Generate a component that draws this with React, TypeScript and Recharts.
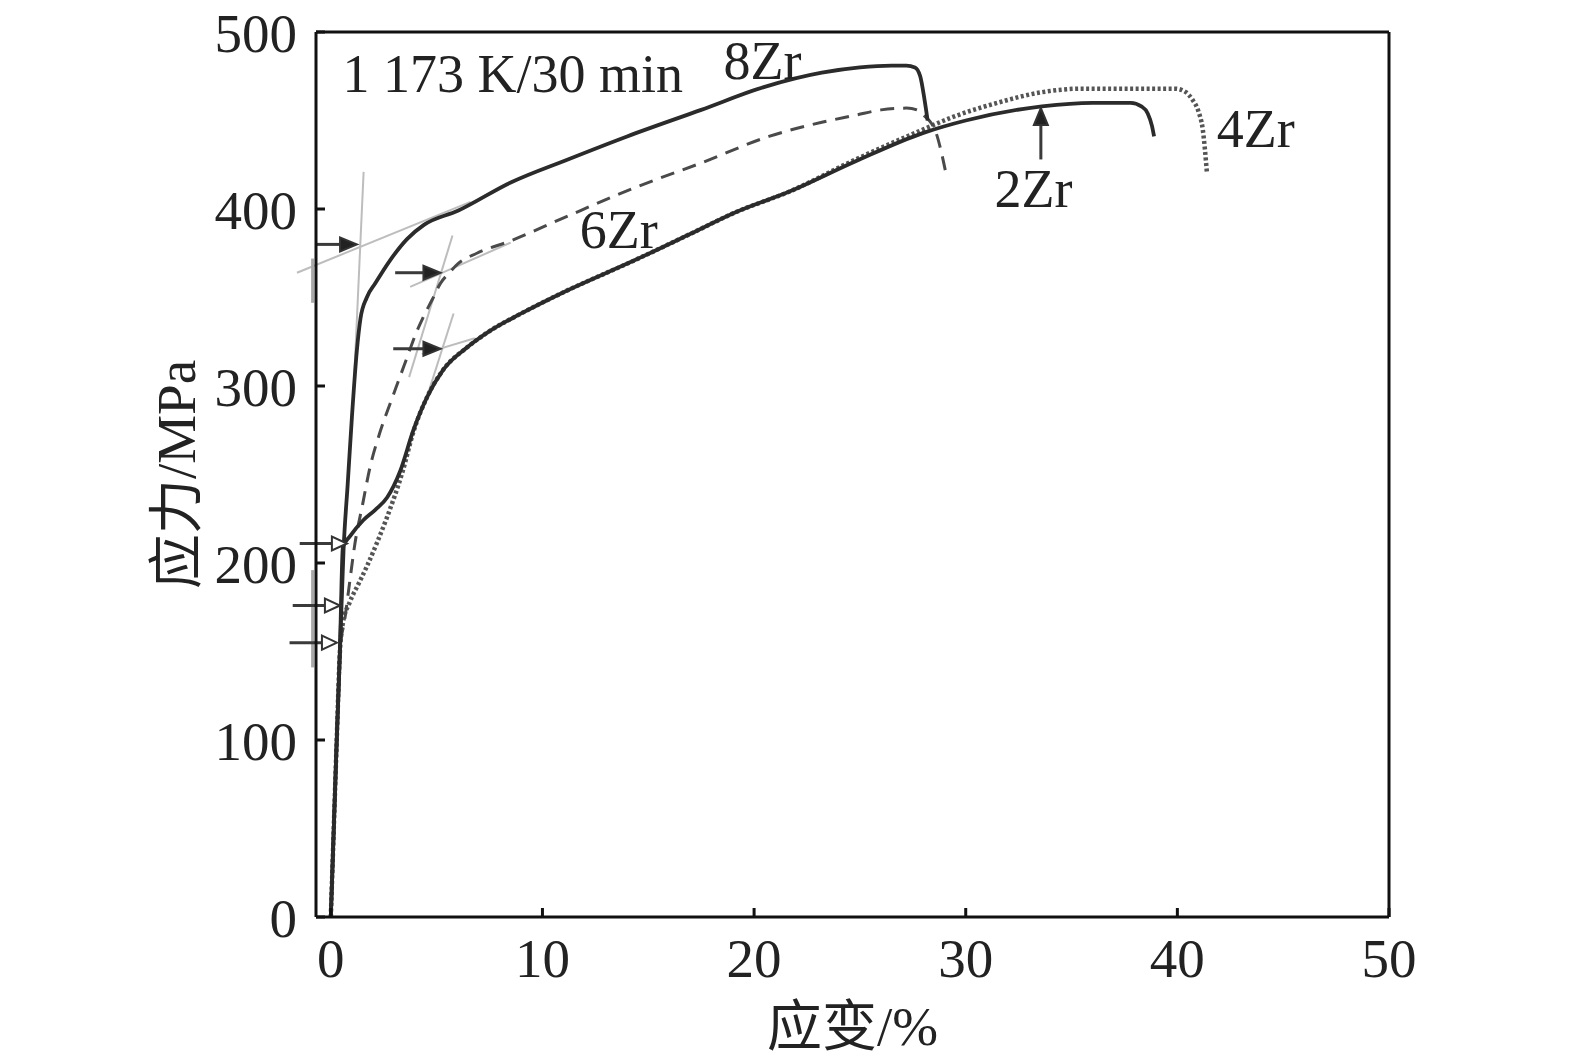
import React from 'react';
import { Line, LineChart, ReferenceDot, ReferenceLine, XAxis, YAxis } from 'recharts';

const FONT = "'Liberation Serif', 'Times New Roman', 'Noto Sans CJK SC', serif";

const xTicks = [0, 10, 20, 30, 40, 50];
const yTicks = [0, 100, 200, 300, 400, 500];

// 8Zr, solid (upper)
const strain8Zr = [0, 0.14, 0.28, 0.43, 0.6, 0.8, 1.0, 1.23, 1.4, 1.7, 2.1, 2.8, 3.6, 4.4, 6, 8.5, 11.2, 14, 17.5, 20.5, 23.2, 25, 26.5, 27.2, 27.6, 27.85, 28.05, 28.2];
const stress8Zr = [0, 50, 100, 150, 207, 245, 283, 320, 338, 350, 358, 371, 383, 391, 399, 415, 428, 441, 456, 469, 477, 480, 481, 481, 480, 475, 462, 450];

// 6Zr, dashed
const strain6Zr = [0, 0.14, 0.28, 0.43, 0.67, 0.9, 1.14, 1.5, 1.85, 2.3, 2.8, 3.2, 3.6, 4.0, 4.37, 4.8, 5.18, 5.6, 6.0, 6.9, 8.5, 11, 14.35, 17.5, 20.7, 23.2, 24.8, 26, 27.2, 27.7, 28.1, 28.4, 28.6, 28.85, 29.1];
const stress6Zr = [0, 50, 100, 150, 169, 190, 211, 233, 254, 273, 290, 303, 316, 329, 339, 349, 358, 364, 369, 375, 382, 395, 412, 426, 441, 449, 453, 456, 457, 456, 452, 448, 443, 432, 418];

// 2Zr, solid (lower)
const strain2Zr = [0, 0.14, 0.28, 0.43, 0.57, 0.9, 1.52, 2.1, 2.66, 3.28, 3.9, 4.56, 5.3, 6.46, 7.5, 9, 11, 14.35, 17, 19.1, 21.7, 24.8, 28, 30, 33.6, 36, 37.8, 38.3, 38.6, 38.8, 38.9];
const stress2Zr = [0, 50, 100, 150, 209, 215, 224, 230, 237, 252, 275, 294, 309, 322, 331, 341, 353, 371, 386, 398, 410, 427, 443, 450, 458, 460, 460, 458, 454, 447, 441];

// 4Zr, dotted
const strain4Zr = [0, 0.14, 0.28, 0.43, 0.57, 0.9, 1.3, 1.7, 2.2, 2.66, 3.4, 3.9, 4.56, 5.3, 6.46, 7.5, 9, 11, 14.35, 17, 19.1, 21.7, 24.8, 28, 29.4, 31.5, 33.6, 35.5, 37.4, 39.0, 39.9, 40.4, 40.7, 41.0, 41.2, 41.4];
const stress4Zr = [0, 50, 100, 150, 166, 178, 188, 198, 212, 226, 252, 274, 294, 309, 322, 331, 341, 353, 371, 386, 398, 410, 428, 445, 452, 460, 466, 468, 468, 468, 468, 466, 462, 455, 445, 420];

// grey tangent constructions [x1, y1, x2, y2]
const tangentLines = [
  [1.55, 421, 1.05, 290],
  [-1.6, 364, 6.6, 404],
  [5.75, 385, 3.7, 305],
  [3.75, 356, 8.5, 381],
  [5.8, 341, 4.6, 296],
  [4.3, 318, 6.8, 327],
  [-0.86, 347, -0.86, 372],
  [-0.86, 141, -0.86, 196],
];

const filledArrows = [
  [-0.71, 380, 1.24, 380],
  [3.04, 364, 5.18, 364],
  [2.95, 321, 5.18, 321],
  [33.55, 428, 33.55, 457],
];

const hollowArrows = [
  [-1.47, 211, 0.76, 211],
  [-1.8, 176, 0.43, 176],
  [-1.95, 155, 0.29, 155],
];

const textLabels = [
  { x: 8.6, y: 477, text: '1 173 K/30 min' },
  { x: 20.4, y: 484, text: '8Zr' },
  { x: 43.7, y: 446, text: '4Zr' },
  { x: 33.2, y: 412, text: '2Zr' },
  { x: 13.6, y: 389, text: '6Zr' },
];

const toPoints = (xs: number[], ys: number[]) => xs.map((x, i) => ({ x, y: ys[i] }));

const arrowShape = (hollow: boolean) => (props: any) => {
  const { x1, y1, x2, y2 } = props;
  const dx = x2 - x1;
  const dy = y2 - y1;
  const len = Math.hypot(dx, dy) || 1;
  const ux = dx / len;
  const uy = dy / len;
  const hl = hollow ? 15 : 17;
  const hw = 7;
  const bx = x2 - ux * hl;
  const by = y2 - uy * hl;
  const pts = `${x2},${y2} ${bx - uy * hw},${by + ux * hw} ${bx + uy * hw},${by - ux * hw}`;
  return (
    <g>
      <line x1={x1} y1={y1} x2={bx + ux * 2} y2={by + uy * 2} stroke="#3a3a3a" strokeWidth={3} />
      <polygon points={pts} fill={hollow ? '#fff' : '#222'} stroke="#333" strokeWidth={2} />
    </g>
  );
};

const tickStyle = { fontSize: 55, fill: '#222', fontFamily: FONT };

export default function App() {
  return (
    <div style={{ position: 'absolute', left: 0, top: 0, background: '#fff' }}>
      <LineChart width={1575} height={1062} margin={{ top: 32, right: 186, bottom: 0, left: 0 }}>
        <XAxis
          type="number"
          dataKey="x"
          domain={[-0.7, 50]}
          ticks={xTicks}
          allowDataOverflow
          height={145}
          stroke="#111"
          strokeWidth={3}
          tickSize={-9}
          tickMargin={30}
          tick={tickStyle}
          label={{ value: '应变/%', position: 'center', dy: 36, fontSize: 55, fill: '#222', fontFamily: FONT }}
        />
        <YAxis
          type="number"
          dataKey="y"
          domain={[0, 500]}
          ticks={yTicks}
          allowDataOverflow
          width={316}
          stroke="#111"
          strokeWidth={3}
          tickSize={-9}
          tickMargin={28}
          tick={tickStyle}
          label={{ value: '应力/MPa', position: 'center', angle: -90, dx: 17, fontSize: 55, fill: '#222', fontFamily: FONT }}
        />
        <ReferenceLine y={500} stroke="#111" strokeWidth={3} />
        <ReferenceLine x={50} stroke="#111" strokeWidth={3} />
        {tangentLines.map((s, i) => (
          <ReferenceLine
            key={`t${i}`}
            segment={[{ x: s[0], y: s[1] }, { x: s[2], y: s[3] }]}
            stroke={i >= 6 ? '#a8a8a8' : '#bdbdbd'}
            strokeWidth={i >= 6 ? 3 : 2}
            ifOverflow="visible"
          />
        ))}
        <Line
          data={toPoints(strain4Zr, stress4Zr)}
          dataKey="y"
          type="monotone"
          stroke="#555"
          strokeWidth={4.5}
          strokeDasharray="3 2.5"
          dot={false}
          isAnimationActive={false}
        />
        <Line
          data={toPoints(strain6Zr, stress6Zr)}
          dataKey="y"
          type="monotone"
          stroke="#4a4a4a"
          strokeWidth={3}
          strokeDasharray="14 9"
          dot={false}
          isAnimationActive={false}
        />
        <Line
          data={toPoints(strain2Zr, stress2Zr)}
          dataKey="y"
          type="monotone"
          stroke="#2b2b2b"
          strokeWidth={3.8}
          dot={false}
          isAnimationActive={false}
        />
        <Line
          data={toPoints(strain8Zr, stress8Zr)}
          dataKey="y"
          type="monotone"
          stroke="#2b2b2b"
          strokeWidth={3.8}
          dot={false}
          isAnimationActive={false}
        />
        {filledArrows.map((a, i) => (
          <ReferenceLine
            key={`fa${i}`}
            segment={[{ x: a[0], y: a[1] }, { x: a[2], y: a[3] }]}
            shape={arrowShape(false)}
            ifOverflow="visible"
          />
        ))}
        {hollowArrows.map((a, i) => (
          <ReferenceLine
            key={`ha${i}`}
            segment={[{ x: a[0], y: a[1] }, { x: a[2], y: a[3] }]}
            shape={arrowShape(true)}
            ifOverflow="visible"
          />
        ))}
        {textLabels.map((l) => (
          <ReferenceDot
            key={l.text}
            x={l.x}
            y={l.y}
            r={0}
            fill="none"
            stroke="none"
            ifOverflow="visible"
            label={{ value: l.text, position: 'center', fontSize: 54, fill: '#222', fontFamily: FONT }}
          />
        ))}
      </LineChart>
    </div>
  );
}
